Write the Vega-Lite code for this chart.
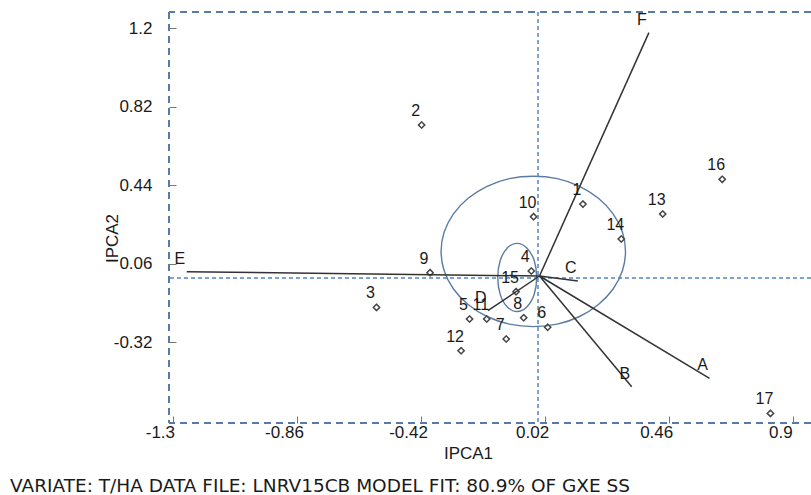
{
  "$schema": "https://vega.github.io/schema/vega-lite/v6.json",
  "width": 642,
  "height": 411,
  "autosize": {"type": "none"},
  "padding": {"left": 169, "top": 12, "right": 0, "bottom": 72},
  "background": "white",
  "title": {
    "text": "VARIATE: T/HA  DATA FILE: LNRV15CB MODEL FIT: 80.9% OF GXE SS",
    "orient": "bottom", "anchor": "start", "frame": "group",
    "dx": -159, "offset": 16, "fontSize": 18.5, "font": "DejaVu Sans",
    "fontWeight": "normal", "color": "#1a1a1a"
  },
  "data": {"name": "genotypes"},
  "datasets": {
    "genotypes": [
      {"g": "1", "x": 0.154, "y": 0.348},
      {"g": "2", "x": -0.418, "y": 0.731},
      {"g": "3", "x": -0.578, "y": -0.152},
      {"g": "4", "x": -0.029, "y": 0.024},
      {"g": "5", "x": -0.248, "y": -0.208},
      {"g": "6", "x": 0.029, "y": -0.248},
      {"g": "7", "x": -0.118, "y": -0.305},
      {"g": "8", "x": -0.056, "y": -0.202},
      {"g": "9", "x": -0.388, "y": 0.016},
      {"g": "10", "x": -0.021, "y": 0.287},
      {"g": "11", "x": -0.187, "y": -0.208},
      {"g": "12", "x": -0.278, "y": -0.362},
      {"g": "13", "x": 0.437, "y": 0.300},
      {"g": "14", "x": 0.290, "y": 0.179},
      {"g": "15", "x": -0.083, "y": -0.076},
      {"g": "16", "x": 0.648, "y": 0.468},
      {"g": "17", "x": 0.819, "y": -0.665}
    ],
    "vectors": [
      {"e": "A", "k": 0, "x": 0, "y": 0}, {"e": "A", "k": 1, "x": 0.603, "y": -0.495},
      {"e": "B", "k": 0, "x": 0, "y": 0}, {"e": "B", "k": 1, "x": 0.327, "y": -0.536},
      {"e": "C", "k": 0, "x": 0, "y": 0}, {"e": "C", "k": 1, "x": 0.136, "y": -0.024},
      {"e": "D", "k": 0, "x": 0, "y": 0}, {"e": "D", "k": 1, "x": -0.183, "y": -0.168},
      {"e": "E", "k": 0, "x": 0, "y": 0}, {"e": "E", "k": 1, "x": -1.251, "y": 0.021},
      {"e": "F", "k": 0, "x": 0, "y": 0}, {"e": "F", "k": 1, "x": 0.388, "y": 1.178}
    ],
    "curves": [
      {"c": "big", "i": 0, "x": 0.305, "y": 0.119},
      {"c": "big", "i": 1, "x": 0.294, "y": 0.213},
      {"c": "big", "i": 2, "x": 0.261, "y": 0.301},
      {"c": "big", "i": 3, "x": 0.209, "y": 0.376},
      {"c": "big", "i": 4, "x": 0.142, "y": 0.434},
      {"c": "big", "i": 5, "x": 0.063, "y": 0.471},
      {"c": "big", "i": 6, "x": -0.022, "y": 0.483},
      {"c": "big", "i": 7, "x": -0.107, "y": 0.471},
      {"c": "big", "i": 8, "x": -0.186, "y": 0.434},
      {"c": "big", "i": 9, "x": -0.253, "y": 0.376},
      {"c": "big", "i": 10, "x": -0.305, "y": 0.301},
      {"c": "big", "i": 11, "x": -0.338, "y": 0.213},
      {"c": "big", "i": 12, "x": -0.349, "y": 0.119},
      {"c": "big", "i": 13, "x": -0.338, "y": 0.025},
      {"c": "big", "i": 14, "x": -0.305, "y": -0.063},
      {"c": "big", "i": 15, "x": -0.253, "y": -0.138},
      {"c": "big", "i": 16, "x": -0.186, "y": -0.196},
      {"c": "big", "i": 17, "x": -0.107, "y": -0.233},
      {"c": "big", "i": 18, "x": -0.022, "y": -0.245},
      {"c": "big", "i": 19, "x": 0.063, "y": -0.233},
      {"c": "big", "i": 20, "x": 0.142, "y": -0.196},
      {"c": "big", "i": 21, "x": 0.209, "y": -0.138},
      {"c": "big", "i": 22, "x": 0.261, "y": -0.063},
      {"c": "big", "i": 23, "x": 0.294, "y": 0.025},
      {"c": "small", "i": 0, "x": -0.010, "y": -0.007},
      {"c": "small", "i": 1, "x": -0.019, "y": 0.076},
      {"c": "small", "i": 2, "x": -0.045, "y": 0.136},
      {"c": "small", "i": 3, "x": -0.079, "y": 0.158},
      {"c": "small", "i": 4, "x": -0.114, "y": 0.136},
      {"c": "small", "i": 5, "x": -0.139, "y": 0.076},
      {"c": "small", "i": 6, "x": -0.148, "y": -0.007},
      {"c": "small", "i": 7, "x": -0.139, "y": -0.090},
      {"c": "small", "i": 8, "x": -0.114, "y": -0.150},
      {"c": "small", "i": 9, "x": -0.079, "y": -0.172},
      {"c": "small", "i": 10, "x": -0.045, "y": -0.150},
      {"c": "small", "i": 11, "x": -0.019, "y": -0.090}
    ]
  },
  "layer": [
    {
      "data": {"name": "genotypes"},
      "mark": {"type": "point", "shape": "diamond", "size": 40, "filled": false, "color": "#333333", "strokeWidth": 1.3},
      "encoding": {
        "x": {"field": "x", "type": "quantitative",
          "scale": {"domain": [-1.3138, 0.9628], "nice": false, "zero": false},
          "axis": {
            "title": "IPCA1", "values": [-1.3, -0.86, -0.42, 0.02, 0.46, 0.9],
            "labelExpr": "'' + datum.value", "labelOffset": -13, "labelPadding": 8,
            "titleX": 299, "titleY": 30, "titleBaseline": "middle", "titleFontSize": 17
          }},
        "y": {"field": "y", "type": "quantitative",
          "scale": {"domain": [-0.7115, 1.2778], "nice": false, "zero": false},
          "axis": {
            "title": "IPCA2", "values": [-0.32, 0.06, 0.44, 0.82, 1.2],
            "labelExpr": "'' + datum.value", "labelPadding": 24,
            "titleX": -57, "titleY": 226, "titleAngle": 270, "titleBaseline": "middle", "titleAlign": "center", "titleFontSize": 17
          }}
      }
    },
    {
      "mark": {"type": "rule", "color": "#5a7aa6", "strokeWidth": 1.5, "strokeDash": [7, 5]},
      "encoding": {"y": {"datum": 1.2778}}
    },
    {
      "mark": {"type": "rule", "color": "#5a7aa6", "strokeWidth": 1.5, "strokeDash": [7, 5]},
      "encoding": {"y": {"datum": -0.7115}}
    },
    {
      "mark": {"type": "rule", "color": "#5a7aa6", "strokeWidth": 1.5, "strokeDash": [7, 5]},
      "encoding": {"x": {"datum": -1.3138}}
    },
    {
      "mark": {"type": "rule", "color": "#7ba3d6", "strokeWidth": 1.2, "strokeDash": [4, 3]},
      "encoding": {"x": {"datum": -0.005}}
    },
    {
      "mark": {"type": "rule", "color": "#7ba3d6", "strokeWidth": 1.2, "strokeDash": [4, 3]},
      "encoding": {"y": {"datum": -0.01}}
    },
    {
      "data": {"name": "curves"},
      "mark": {"type": "line", "color": "#5a7ba6", "strokeWidth": 1.4, "interpolate": "cardinal-closed"},
      "encoding": {
        "x": {"field": "x", "type": "quantitative"},
        "y": {"field": "y", "type": "quantitative"},
        "detail": {"field": "c", "type": "nominal"},
        "order": {"field": "i", "type": "quantitative"}
      }
    },
    {
      "data": {"name": "vectors"},
      "mark": {"type": "line", "color": "#333333", "strokeWidth": 1.5},
      "encoding": {
        "x": {"field": "x", "type": "quantitative"},
        "y": {"field": "y", "type": "quantitative"},
        "detail": {"field": "e", "type": "nominal"},
        "order": {"field": "k", "type": "quantitative"}
      }
    },
    {
      "data": {"name": "vectors"},
      "transform": [{"filter": "datum.k == 1"}],
      "mark": {"type": "text", "font": "Liberation Sans", "fontSize": 16, "color": "#1a1a1a", "dx": -7, "dy": -13},
      "encoding": {
        "x": {"field": "x", "type": "quantitative"},
        "y": {"field": "y", "type": "quantitative"},
        "text": {"field": "e", "type": "nominal"}
      }
    },
    {
      "data": {"name": "genotypes"},
      "mark": {"type": "point", "shape": "diamond", "size": 40, "filled": false, "color": "#333333", "strokeWidth": 1.3},
      "encoding": {
        "x": {"field": "x", "type": "quantitative"},
        "y": {"field": "y", "type": "quantitative"}
      }
    },
    {
      "data": {"name": "genotypes"},
      "mark": {"type": "text", "font": "Liberation Sans", "fontSize": 16, "color": "#1a1a1a", "dx": -6, "dy": -14},
      "encoding": {
        "x": {"field": "x", "type": "quantitative"},
        "y": {"field": "y", "type": "quantitative"},
        "text": {"field": "g", "type": "nominal"}
      }
    }
  ],
  "config": {
    "view": {"stroke": null},
    "axis": {
      "grid": false, "domain": false, "tickColor": "#777777", "tickSize": -7, "tickWidth": 1,
      "labelFont": "Liberation Sans", "labelFontSize": 17, "labelColor": "#1a1a1a",
      "titleFont": "Liberation Sans", "titleFontWeight": "normal", "titleColor": "#1a1a1a"
    }
  }
}
